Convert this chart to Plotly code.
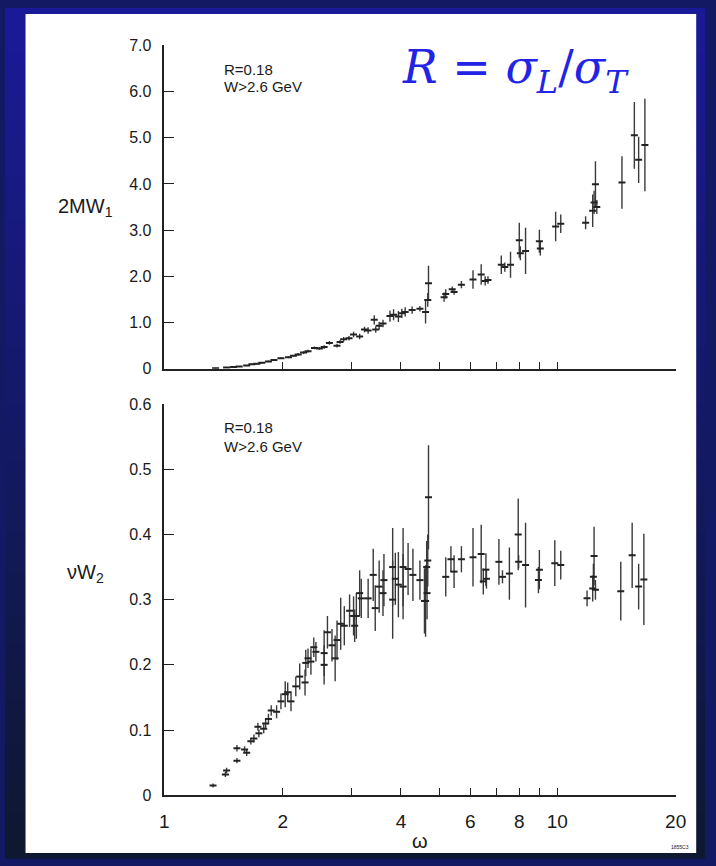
import math
import plotly.graph_objects as go

W, H = 716, 866

# ---------------- data ----------------
omega_top = [1.35, 1.44, 1.50, 1.55, 1.62, 1.67, 1.72, 1.77, 1.84, 1.90,
             1.98, 2.07, 2.13, 2.19, 2.26, 2.32, 2.41, 2.48, 2.55, 2.63,
             2.75, 2.80, 2.86, 2.95, 3.03, 3.14, 3.23, 3.30, 3.42, 3.45,
             3.52, 3.60, 3.75, 3.83, 3.94, 4.02, 4.10, 4.27, 4.47, 4.62,
             4.68, 4.70, 5.15, 5.20, 5.40, 5.46, 5.70, 6.10, 6.40, 6.55,
             6.66, 7.20, 7.35, 7.60, 8.00, 8.05, 8.30, 9.00, 9.05, 9.90,
             10.2, 11.8, 12.3, 12.4, 12.5, 12.6, 14.6, 15.7, 16.1, 16.7]
f1_top = [0.01, 0.03, 0.04, 0.05, 0.07, 0.10, 0.11, 0.13, 0.16, 0.19,
          0.23, 0.25, 0.28, 0.31, 0.35, 0.38, 0.45, 0.44, 0.47, 0.56,
          0.50, 0.58, 0.64, 0.66, 0.74, 0.70, 0.85, 0.83, 1.06, 0.85,
          0.93, 0.98, 1.14, 1.17, 1.13, 1.20, 1.23, 1.27, 1.30, 1.23,
          1.49, 1.85, 1.55, 1.62, 1.72, 1.66, 1.82, 1.93, 2.04, 1.90,
          1.92, 2.25, 2.20, 2.25, 2.78, 2.50, 2.55, 2.76, 2.60, 3.08,
          3.14, 3.16, 3.42, 3.60, 3.99, 3.50, 4.03, 5.05, 4.52, 4.84]
err_top = [0.01, 0.01, 0.01, 0.01, 0.01, 0.015, 0.015, 0.015, 0.02, 0.02,
           0.02, 0.02, 0.02, 0.03, 0.03, 0.03, 0.03, 0.03, 0.04, 0.04,
           0.04, 0.04, 0.05, 0.05, 0.06, 0.06, 0.06, 0.07, 0.10, 0.07,
           0.08, 0.08, 0.12, 0.12, 0.12, 0.10, 0.10, 0.08, 0.06, 0.25,
           0.15, 0.38, 0.10, 0.10, 0.06, 0.06, 0.08, 0.20, 0.22, 0.10,
           0.08, 0.20, 0.10, 0.28, 0.38, 0.15, 0.50, 0.25, 0.15, 0.32,
           0.20, 0.14, 0.35, 0.25, 0.50, 0.15, 0.57, 0.72, 0.50, 1.00]

omega_bot = [1.33, 1.43, 1.44, 1.53, 1.53, 1.60, 1.62, 1.66, 1.69, 1.74,
             1.73, 1.79, 1.81, 1.84, 1.87, 1.93, 1.98, 2.03, 2.06, 2.10,
             2.16, 2.21, 2.28, 2.29, 2.32, 2.36, 2.40, 2.43, 2.55, 2.55,
             2.60, 2.67, 2.72, 2.75, 2.81, 2.87, 2.96, 3.03, 3.05, 3.08,
             3.14, 3.17, 3.30, 3.40, 3.44, 3.52, 3.60, 3.62, 3.81, 3.81,
             3.87, 3.94, 4.05, 4.05, 4.17, 4.29, 4.47, 4.59, 4.65, 4.68,
             4.70, 4.66, 4.62, 5.20, 5.36, 5.46, 5.70, 6.10, 6.40, 6.48,
             6.58, 6.60, 7.10, 7.25, 7.55, 7.95, 7.97, 8.30, 9.00, 8.95,
             9.85, 10.2, 11.9, 12.3, 12.4, 12.35, 12.5, 14.5, 15.5, 16.1,
             16.6]
vw2_bot = [0.015, 0.032, 0.038, 0.053, 0.072, 0.070, 0.065, 0.083, 0.087, 0.095,
           0.105, 0.102, 0.110, 0.117, 0.130, 0.128, 0.144, 0.155, 0.158, 0.144,
           0.167, 0.182, 0.173, 0.203, 0.210, 0.205, 0.227, 0.220, 0.218, 0.200,
           0.250, 0.230, 0.210, 0.238, 0.263, 0.260, 0.283, 0.275, 0.260, 0.275,
           0.310, 0.302, 0.302, 0.338, 0.287, 0.320, 0.310, 0.330, 0.350, 0.300,
           0.332, 0.323, 0.350, 0.320, 0.347, 0.338, 0.330, 0.298, 0.350, 0.360,
           0.457, 0.310, 0.298, 0.335, 0.362, 0.343, 0.362, 0.365, 0.370, 0.328,
           0.346, 0.332, 0.358, 0.335, 0.340, 0.400, 0.358, 0.353, 0.346, 0.330,
           0.356, 0.353, 0.302, 0.317, 0.367, 0.335, 0.315, 0.313, 0.368, 0.320,
           0.331]
err_bot = [0.003, 0.004, 0.004, 0.004, 0.005, 0.005, 0.005, 0.005, 0.006, 0.006,
           0.006, 0.007, 0.007, 0.008, 0.008, 0.010, 0.012, 0.020, 0.015, 0.015,
           0.015, 0.020, 0.020, 0.020, 0.015, 0.020, 0.015, 0.015, 0.035, 0.030,
           0.025, 0.025, 0.035, 0.030, 0.040, 0.030, 0.025, 0.030, 0.025, 0.035,
           0.035, 0.030, 0.030, 0.040, 0.035, 0.040, 0.035, 0.040, 0.060, 0.060,
           0.040, 0.050, 0.060, 0.050, 0.040, 0.040, 0.030, 0.050, 0.040, 0.040,
           0.080, 0.040, 0.055, 0.030, 0.020, 0.025, 0.020, 0.045, 0.045, 0.020,
           0.025, 0.015, 0.035, 0.010, 0.040, 0.055, 0.010, 0.065, 0.030, 0.020,
           0.035, 0.022, 0.012, 0.020, 0.045, 0.020, 0.015, 0.045, 0.050, 0.035,
           0.070]

x_tickvals = [1, 2, 4, 6, 8, 10, 20]
x_ticktext = ["1", "2", "4", "6", "8", "10", "20"]
x_minor_tickvals = [3, 5, 7, 9]
y_top_tickvals = [0, 1, 2, 3, 4, 5, 6, 7]
y_top_ticktext = ["0", "1.0", "2.0", "3.0", "4.0", "5.0", "6.0", "7.0"]
y_bot_tickvals = [0, 0.1, 0.2, 0.3, 0.4, 0.5, 0.6]
y_bot_ticktext = ["0", "0.1", "0.2", "0.3", "0.4", "0.5", "0.6"]

# ---------------- styling ----------------
INK = "#222222"
FONT = "Liberation Sans"


def fx(p):
    return p / W


def fy(p):
    return 1 - p / H


fig = go.Figure()

mk = dict(symbol="line-ew", size=5, color=INK, line=dict(width=2, color=INK))
fig.add_trace(go.Scatter(
    x=omega_top, y=f1_top, mode="markers", marker=mk,
    error_y=dict(type="data", array=err_top, thickness=1.4, width=0, color="#3a3a3a"),
    xaxis="x", yaxis="y", showlegend=False, hoverinfo="x+y"))
fig.add_trace(go.Scatter(
    x=omega_bot, y=vw2_bot, mode="markers", marker=mk,
    error_y=dict(type="data", array=err_bot, thickness=1.4, width=0, color="#3a3a3a"),
    xaxis="x2", yaxis="y2", showlegend=False, hoverinfo="x+y"))

# background gradient bands + white sheet
shapes = []
N = 60
c0 = (26, 26, 152)
c1 = (14, 24, 48)
for i in range(N):
    t = i / (N - 1)
    c = tuple(round(c0[k] + (c1[k] - c0[k]) * t) for k in range(3))
    shapes.append(dict(type="rect", xref="paper", yref="paper", layer="below",
                       x0=0, x1=1, y0=1 - (i + 1) / N - 0.002, y1=1 - i / N,
                       fillcolor="rgb(%d,%d,%d)" % c, line=dict(width=0)))
shapes.append(dict(type="rect", xref="paper", yref="paper", layer="below",
                   x0=fx(21), x1=fx(707), y0=fy(862), y1=fy(6),
                   fillcolor="white", line=dict(width=0)))

xdom = [fx(163), fx(686)]
xr = [0, math.log10(20)]
tickfont = dict(family=FONT, size=16, color="#1a1a1a")

common_x = dict(type="log", range=xr, domain=xdom, tickvals=x_tickvals,
                ticks="inside", ticklen=7, tickwidth=1.3, tickcolor=INK,
                minor=dict(tickvals=x_minor_tickvals, ticks="inside", ticklen=7,
                           tickwidth=1.3, tickcolor=INK, showgrid=False),
                showline=True, linecolor=INK, linewidth=1.5, showgrid=False,
                zeroline=False)
common_y = dict(ticks="inside", ticklen=10, tickwidth=1.3, tickcolor=INK,
                showline=True, linecolor=INK, linewidth=1.5, showgrid=False,
                zeroline=False, tickfont=tickfont, ticklabelstandoff=8)

fig.update_layout(
    width=W, height=H, margin=dict(l=0, r=0, t=0, b=0),
    paper_bgcolor="rgb(20,25,100)", plot_bgcolor="rgba(0,0,0,0)",
    shapes=shapes,
    xaxis=dict(common_x, anchor="y", showticklabels=False),
    yaxis=dict(common_y, anchor="x", range=[0, 7], domain=[fy(368), fy(38)],
               tickvals=y_top_tickvals, ticktext=y_top_ticktext),
    xaxis2=dict(common_x, anchor="y2", ticktext=x_ticktext, showticklabels=True,
                tickfont=dict(family=FONT, size=19, color="#1a1a1a"),
                ticklabelstandoff=8),
    yaxis2=dict(common_y, anchor="x2", range=[0, 0.6], domain=[fy(803), fy(404)],
                tickvals=y_bot_tickvals, ticktext=y_bot_ticktext),
)

ann = []


def text(x, y, s, size, xanchor="left", family=FONT, color="#1a1a1a"):
    ann.append(dict(x=fx(x), y=fy(y), xref="paper", yref="paper", text=s,
                    showarrow=False, xanchor=xanchor, yanchor="middle",
                    font=dict(family=family, size=size, color=color)))


text(222, 63, "R=0.18", 15)
text(222, 80, "W>2.6 GeV", 15)
text(222, 428, "R=0.18", 15)
text(222, 447, "W>2.6 GeV", 15)
text(82, 203, "2MW<sub>1</sub>", 20, xanchor="center")
text(82, 577, "νW<sub>2</sub>", 20, xanchor="center")
text(424, 850, "ω", 20, xanchor="center")
text(690, 856, "1855C3", 5, xanchor="center")
text(404, 64, "<i>R</i> = <i>σ</i><sub><i>L</i></sub>/<i>σ</i><sub><i>T</i></sub>",
     46, family="DejaVu Serif", color="#2323e6")
fig.update_layout(annotations=ann)

fig.write_html("out.html")
